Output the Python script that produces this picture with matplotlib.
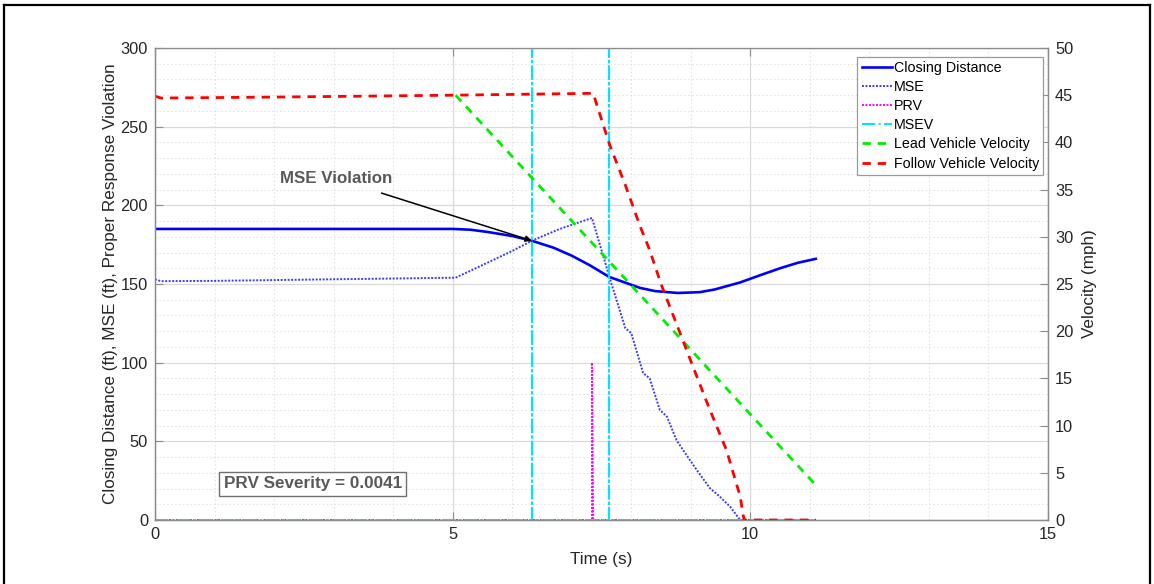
import numpy as np
import matplotlib
matplotlib.use("Agg")
import matplotlib.pyplot as plt
from matplotlib.lines import Line2D

plt.rcParams['font.family'] = ['Liberation Sans', 'DejaVu Sans']

# closing distance (ft)
t_cd = [0, 5.0, 5.3, 5.6, 6.0, 6.33, 6.7, 7.0, 7.3, 7.63, 8.0, 8.15, 8.4, 8.78,
        9.15, 9.4, 9.83, 10.16, 10.5, 10.8, 11.1]
cd = [185, 185, 184.5, 183, 180.5, 177.5, 173, 168, 162, 154.5, 149.5, 147.5,
      145.5, 144.3, 144.8, 146.5, 151, 155.5, 160, 163.5, 166]

# minimum safe distance (ft)
t_mse = [0, 0.1, 1, 3, 5.05, 5.5, 6.0, 6.33, 6.8, 7.34, 7.5, 7.64, 7.9, 8.0,
         8.2, 8.31, 8.48, 8.6, 8.76, 8.87, 9.1, 9.32, 9.49, 9.66, 9.83, 11.1]
mse = [153, 151.8, 152, 153, 154, 162, 171, 177.5, 185, 192, 171.6, 153.6,
       122, 118.8, 93.4, 90, 70, 65.7, 50.8, 44.5, 31.8, 20.3, 14.8, 8.5, 0, 0]

# proper response violation flag
t_prv = [0, 7.34, 7.34, 7.36, 11.1]
prv = [0, 0, 100, 0, 0]

# MSE violation markers
t_msev = [0, 6.33, 6.33, 6.33, 7.63, 7.63, 7.63, 11.1]
msev = [0, 0, 1000, 0, 0, 1000, 0, 0]

# vehicle speeds (mph)
t_lead = [5.05, 11.1]
v_lead = [45.0, 3.7]
t_follow = [0, 0.1, 2, 5, 7.36, 7.64, 7.9, 8.15, 8.31, 8.5, 8.82, 9.04, 9.3,
            9.6, 9.83, 9.88, 9.9, 11.1]
v_follow = [44.9, 44.7, 44.8, 45.0, 45.2, 39.7, 35.5, 31.1, 28.6, 25, 19.8,
            16.2, 12, 7.4, 2.5, 0.5, 0, 0]

prv_severity = 0.0041
t_violation = 6.33
cd_violation = 177.5

fig = plt.figure(figsize=(11.54, 5.84), dpi=100)
ax = fig.add_axes([0.1343, 0.1096, 0.7738, 0.8082])
ax2 = ax.twinx()

h1, = ax.plot(t_cd, cd, color='#0000ff', lw=1.9, label='Closing Distance')
h2, = ax.plot(t_mse, mse, color='#3a3aff', lw=1.4, ls=(0, (1, 0.8)), label='MSE')
h3, = ax.plot(t_prv, prv, color='#ff00ff', lw=1.4, ls=(0, (1, 0.8)), label='PRV')
h4, = ax.plot(t_msev, msev, color='#00e5ff', lw=1.5, ls='-.', label='MSEV')
h5, = ax2.plot(t_lead, v_lead, color='#00ee00', lw=2.0, ls=(0, (3, 2.5)),
               label='Lead Vehicle Velocity')
h6, = ax2.plot(t_follow, v_follow, color='#ff0000', lw=2.0, ls=(0, (3, 2.5)),
               label='Follow Vehicle Velocity')

ax.set_xlim(0, 15)
ax.set_ylim(0, 300)
ax2.set_ylim(0, 50)
ax.set_xticks([0, 5, 10, 15])
ax.set_yticks(np.arange(0, 301, 50))
ax2.set_yticks(np.arange(0, 51, 5))
ax.set_xticks(np.arange(0, 15.1, 1), minor=True)
ax.set_yticks(np.arange(0, 301, 10), minor=True)

ax.grid(True, which='major', color='#dadada', lw=0.9)
ax.grid(True, which='minor', color='#e4e4e4', lw=0.8, ls=(0, (1.5, 2)))
ax.set_axisbelow(True)

for a in (ax, ax2):
    for s in a.spines.values():
        s.set_color('#8c8c8c')
        s.set_linewidth(0.9)
    a.tick_params(which='major', direction='in', length=6, color='#8c8c8c',
                  labelsize=11.8, labelcolor='#262626', pad=5)
    a.tick_params(which='minor', length=0)
ax.tick_params(top=True)
ax.spines['top'].set_color('#d0d0d0')

ax.set_xlabel('Time (s)', fontsize=12.3, color='#262626', labelpad=7)
ax.set_ylabel('Closing Distance (ft), MSE (ft), Proper Response Violation',
              fontsize=12.3, color='#262626', labelpad=2)
ax2.set_ylabel('Velocity (mph)', fontsize=12.3, color='#262626', labelpad=6)

ax2.annotate('MSE Violation', xy=(t_violation, cd_violation / 6),
             xytext=(3.98, 217 / 6), ha='right', va='center',
             fontsize=12.2, fontweight='bold', color='#595959',
             arrowprops=dict(arrowstyle='-|>', color='black', lw=1.1,
                             mutation_scale=9, shrinkA=10, shrinkB=0))

ax2.text(2.65, 22.9 / 6, f'PRV Severity = {prv_severity}', ha='center',
         va='center', fontsize=12.3, fontweight='bold', color='#595959',
         bbox=dict(boxstyle='square,pad=0.25', fc='white', ec='#6e6e6e', lw=1.0))

leg = ax2.legend(handles=[h1, h2, h3, h4, h5, h6], loc='upper right',
                 bbox_to_anchor=(0.995, 0.982), borderaxespad=0, fontsize=10.3,
                 handlelength=2.1, handletextpad=0.15, labelspacing=0.36,
                 borderpad=0.3, fancybox=False, framealpha=1)
leg.get_frame().set_edgecolor('#9a9a9a')
leg.get_frame().set_linewidth(0.9)

# outer frame
for xs, ys in [((0.0035, 0.0035), (0.0, 0.9915)),
               ((0.9965, 0.9965), (0.0, 0.9915)),
               ((0.0035, 0.9965), (0.9915, 0.9915))]:
    fig.add_artist(Line2D(xs, ys, transform=fig.transFigure, color='black', lw=1.6))

fig.savefig('out.png', dpi=100)
